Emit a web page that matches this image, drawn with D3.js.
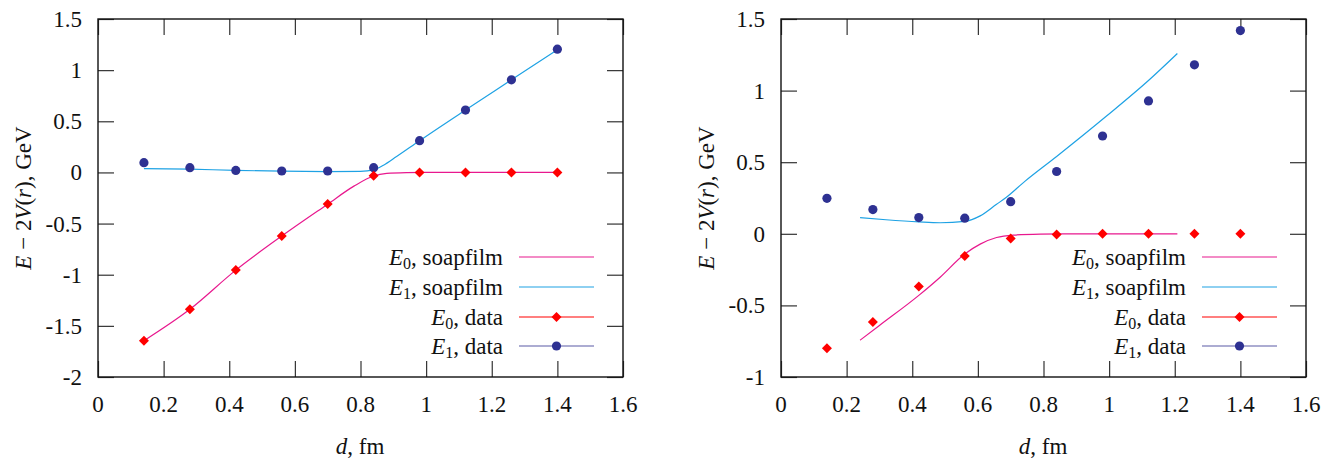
<!DOCTYPE html>
<html>
<head>
<meta charset="utf-8">
<script src="https://cdn.jsdelivr.net/npm/d3@7/dist/d3.min.js"></script>
<style>
  body { margin: 0; background: #fff; }
  .lbl { font-family: 'Liberation Serif'; font-size: 23px; fill: #111; }
  .sub { font-size: 16px; }
  .it { font-style: italic; }
</style>
</head>
<body>
<svg id="chart" width="1338" height="459" viewBox="0 0 1338 459"></svg>
<script>
'use strict';

// separations d (fm) of the lattice data
var dist = [0.14, 0.28, 0.42, 0.56, 0.70, 0.84, 0.98, 1.12, 1.26, 1.40];

// left panel
var leftE0Data = [-1.645, -1.338, -0.954, -0.622, -0.309, -0.032, 0, 0, 0, 0];
var leftE1Data = [0.095, 0.046, 0.02, 0.014, 0.014, 0.046, 0.31, 0.61, 0.905, 1.205];
var leftE0Film = [[0.14, -1.645], [0.28, -1.338], [0.42, -0.955], [0.56, -0.622], [0.70, -0.31],
  [0.78, -0.134], [0.84, -0.035], [0.88, -0.01], [0.94, -0.002], [1.0, 0], [1.4, 0]];
var leftE1Film = [[0.14, 0.038], [0.28, 0.032], [0.42, 0.02], [0.56, 0.012], [0.70, 0.008],
  [0.80, 0.01], [0.84, 0.025], [0.87, 0.07], [0.91, 0.155], [0.98, 0.31], [1.12, 0.61],
  [1.26, 0.905], [1.40, 1.2]];

// right panel
var rightE0Data = [-0.80, -0.616, -0.368, -0.155, -0.033, -0.005, 0, 0, 0, 0];
var rightE1Data = [0.248, 0.169, 0.113, 0.109, 0.224, 0.435, 0.683, 0.928, 1.18, 1.419];
var rightE0Film = [[0.241, -0.743], [0.30, -0.64], [0.42, -0.43], [0.485, -0.303], [0.56, -0.141],
  [0.607, -0.072], [0.657, -0.026], [0.708, -0.009], [0.79, -0.002], [0.9, 0], [1.208, 0]];
var rightE1Film = [[0.241, 0.113], [0.32, 0.098], [0.42, 0.083], [0.485, 0.077], [0.56, 0.087],
  [0.607, 0.125], [0.657, 0.206], [0.688, 0.257], [0.744, 0.368], [0.84, 0.54], [0.993, 0.824],
  [1.125, 1.081], [1.208, 1.259]];

var xTicks = [0, 0.2, 0.4, 0.6, 0.8, 1, 1.2, 1.4, 1.6];
var xTickLabels = ['0', '0.2', '0.4', '0.6', '0.8', '1', '1.2', '1.4', '1.6'];
var leftYTicks = [1.5, 1, 0.5, 0, -0.5, -1, -1.5, -2];
var leftYTickLabels = ['1.5', '1', '0.5', '0', '-0.5', '-1', '-1.5', '-2'];
var rightYTicks = [1.5, 1, 0.5, 0, -0.5, -1];
var rightYTickLabels = ['1.5', '1', '0.5', '0', '-0.5', '-1'];

var colE0Film = '#e8188e';
var colE1Film = '#1ea2e4';
var colE0Data = '#ff0000';
var colE1Data = '#2e3192';

var svg = d3.select('#chart');
svg.append('rect').attr('width', 1338).attr('height', 459).attr('fill', '#fff');

function diamond(sel, cx, cy) {
  var r = 5;
  sel.append('path')
    .attr('d', 'M' + cx + ',' + (cy - r) + 'L' + (cx + r) + ',' + cy + 'L' + cx + ',' + (cy + r) + 'L' + (cx - r) + ',' + cy + 'Z')
    .attr('fill', colE0Data);
}

// text goes straight onto the svg root
function label(x, y, anchor) {
  return svg.append('text').attr('class', 'lbl').attr('x', x).attr('y', y).attr('text-anchor', anchor);
}

function drawPanel(p) {
  var x = d3.scaleLinear().domain([0, 1.6]).range([p.left, p.left + 525]);
  var y = d3.scaleLinear().domain(p.yDomain).range([377, 19]);

  var g = svg.append('g');
  var tickLen = 16;

  var axes = [
    g.append('g').attr('transform', 'translate(0,377)')
      .call(d3.axisBottom(x).tickValues(xTicks).tickFormat('').tickSize(-tickLen)),
    g.append('g').attr('transform', 'translate(0,19)')
      .call(d3.axisTop(x).tickValues(xTicks).tickFormat('').tickSize(-tickLen)),
    g.append('g').attr('transform', 'translate(' + p.left + ',0)')
      .call(d3.axisLeft(y).tickValues(p.yTicks).tickFormat('').tickSize(-tickLen)),
    g.append('g').attr('transform', 'translate(' + (p.left + 525) + ',0)')
      .call(d3.axisRight(y).tickValues(p.yTicks).tickFormat('').tickSize(-tickLen))
  ];
  axes.forEach(function (a) {
    a.select('.domain').remove();
    a.selectAll('text').remove();
    a.selectAll('line').attr('stroke', '#333').attr('stroke-width', 1.2);
  });

  xTicks.forEach(function (d, i) {
    label(x(d), 412, 'middle').text(xTickLabels[i]);
  });
  p.yTicks.forEach(function (d, i) {
    label(p.left - 16, y(d) + 8, 'end').text(p.yLabels[i]);
  });

  g.append('rect').attr('x', p.left).attr('y', 19).attr('width', 525).attr('height', 358)
    .attr('fill', 'none').attr('stroke', '#111').attr('stroke-width', 1.4);

  var line = d3.line().x(function (d) { return x(d[0]); }).y(function (d) { return y(d[1]); })
    .curve(d3.curveMonotoneX);

  g.append('path').datum(p.e0Film).attr('d', line).attr('fill', 'none')
    .attr('stroke', colE0Film).attr('stroke-width', 1.2);
  g.append('path').datum(p.e1Film).attr('d', line).attr('fill', 'none')
    .attr('stroke', colE1Film).attr('stroke-width', 1.2);

  dist.forEach(function (d, i) {
    g.append('circle').attr('cx', x(d)).attr('cy', y(p.e1Data[i])).attr('r', 4.6).attr('fill', colE1Data);
  });
  dist.forEach(function (d, i) {
    diamond(g, x(d), y(p.e0Data[i]));
  });

  // legend
  var textX = p.left + 405;
  var l0 = p.left + 421;
  var l1 = p.left + 496;
  var rows = [257, 287, 317, 346];
  var leg = [
    { sub: '0', rest: ', soapfilm', col: colE0Film, mark: null },
    { sub: '1', rest: ', soapfilm', col: colE1Film, mark: null },
    { sub: '0', rest: ', data', col: colE0Data, mark: 'd' },
    { sub: '1', rest: ', data', col: '#5a5aa6', mark: 'c' }
  ];
  leg.forEach(function (e, i) {
    var ry = rows[i];
    var t = label(textX, ry + 8, 'end');
    t.append('tspan').attr('class', 'it').text('E');
    t.append('tspan').attr('class', 'sub').attr('dy', 4).text(e.sub);
    t.append('tspan').attr('dy', -4).text(e.rest);
    g.append('line').attr('x1', l0).attr('x2', l1).attr('y1', ry).attr('y2', ry)
      .attr('stroke', e.col).attr('stroke-width', 1.2);
    var mx = (l0 + l1) / 2;
    if (e.mark === 'd') diamond(g, mx, ry);
    if (e.mark === 'c') g.append('circle').attr('cx', mx).attr('cy', ry).attr('r', 4.6).attr('fill', colE1Data);
  });

  // axis titles
  var xt = label(p.left + 262, 454, 'middle');
  xt.append('tspan').attr('class', 'it').text('d');
  xt.append('tspan').text(', fm');

  var yt = label(0, 0, 'middle').attr('transform', 'translate(' + (p.left - 67) + ',198) rotate(-90)');
  yt.append('tspan').attr('class', 'it').text('E');
  yt.append('tspan').text(' \u2212 2');
  yt.append('tspan').attr('class', 'it').text('V');
  yt.append('tspan').text('(');
  yt.append('tspan').attr('class', 'it').text('r');
  yt.append('tspan').text('), GeV');
}

drawPanel({
  left: 98, yDomain: [-2, 1.5], yTicks: leftYTicks, yLabels: leftYTickLabels,
  e0Data: leftE0Data, e1Data: leftE1Data, e0Film: leftE0Film, e1Film: leftE1Film
});
drawPanel({
  left: 781, yDomain: [-1, 1.5], yTicks: rightYTicks, yLabels: rightYTickLabels,
  e0Data: rightE0Data, e1Data: rightE1Data, e0Film: rightE0Film, e1Film: rightE1Film
});
</script>
</body>
</html>
